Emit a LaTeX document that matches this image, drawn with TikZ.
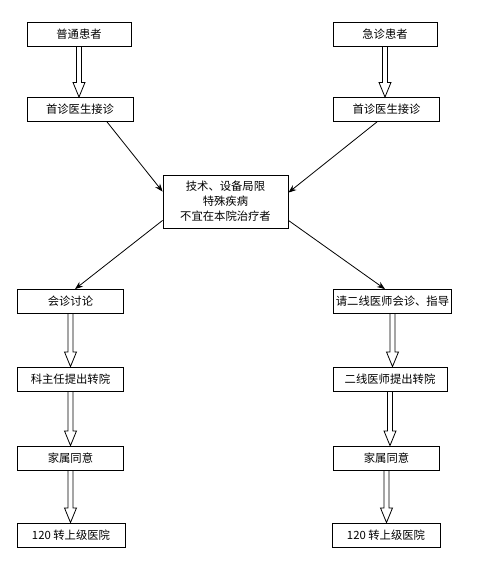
\documentclass[tikz,border=0pt]{standalone}
\usepackage{fontspec}
\newfontfamily\cjk{Noto Sans CJK SC}
\usetikzlibrary{arrows.meta,calc}

\tikzset{
  box/.style={draw,line width=0.6pt,minimum height=18pt,inner sep=1pt,
    font=\cjk\fontsize{8.5}{11.25}\selectfont},
  hollow/.style={line width=0.6pt,to path={let \p1=(\tikztostart),\p2=(\tikztotarget) in
    (\x1-1.9pt,\y1) -- (\x1-1.9pt,\y2+11pt) -- (\x1-4.5pt,\y2+11pt) -- (\x1,\y2)
    -- (\x1+4.5pt,\y2+11pt) -- (\x1+1.9pt,\y2+11pt) -- (\x1+1.9pt,\y1)}}
}

\begin{document}
\begin{tikzpicture}[x=0.75pt,y=-0.75pt,>={Stealth[length=6pt,width=4.5pt]}]
\useasboundingbox (0,0) rectangle (481,576);
% top row
\node[box,minimum width=78pt] (ptl) at (79,34.5) {普通患者};
\node[box,minimum width=78pt] (jzr) at (385,34.5) {急诊患者};
\node[box,minimum width=79.5pt] (fzl) at (80,109.5) {首诊医生接诊};
\node[box,minimum width=80pt] (fzr) at (386.5,109.5) {首诊医生接诊};
% middle
\node[box,minimum width=93.75pt,minimum height=39.75pt,align=center] (mid) at (225.5,201.5)
  {技术、设备局限\\特殊疾病\\不宜在本院治疗者};
% left column
\node[box,minimum width=80pt] (hzl) at (70.5,301.5) {会诊讨论};
\node[box,minimum width=80pt] (kzl) at (70.5,379) {科主任提出转院};
\node[box,minimum width=80pt] (jsl) at (70.5,458) {家属同意};
\node[box,minimum width=81pt] (zyl) at (71,535) {120 转上级医院};
% right column
\node[box,minimum width=89pt] (hzr) at (392.5,301.5) {请二线医师会诊、指导};
\node[box,minimum width=85.5pt] (exr) at (390,379) {二线医师提出转院};
\node[box,minimum width=80pt] (jsr) at (386.5,458) {家属同意};
\node[box,minimum width=81pt] (zyr) at (386,535) {120 转上级医院};
% hollow arrows
\foreach \a/\b in {ptl/fzl,jzr/fzr,hzl/kzl,kzl/jsl,jsl/zyl,hzr/exr,exr/jsr,jsr/zyr}
  \draw[hollow] (\a.south) to (\b.north);
% thin arrows
\draw[->,line width=0.6pt] ($(fzl.south)+(27,0)$) -- ($(mid.north west)+(0,17)$);
\draw[->,line width=0.6pt] ($(fzr.south)+(-9.5,0)$) -- ($(mid.north east)+(0,18)$);
\draw[->,line width=0.6pt] ($(mid.south west)+(0,-8)$) -- ($(hzl.north)+(4.5,0)$);
\draw[->,line width=0.6pt] ($(mid.south east)+(0,-8)$) -- ($(hzr.north)+(-7.5,0)$);
\end{tikzpicture}
\end{document}
